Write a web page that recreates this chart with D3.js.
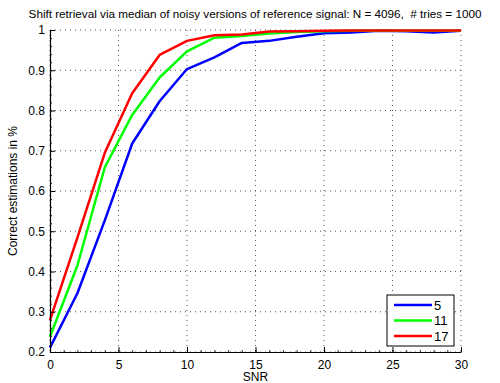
<!DOCTYPE html>
<html>
<head>
<meta charset="utf-8">
<script src="https://cdnjs.cloudflare.com/ajax/libs/d3/7.8.5/d3.min.js"></script>
<style>
  body { margin: 0; background: #fff; }
  text { font-family: "Liberation Sans", Arial, sans-serif; fill: #000; }
</style>
</head>
<body>
<div id="chart"></div>
<script>
var snr = [0, 2, 4, 6, 8, 10, 12, 14, 16, 18, 20, 22, 24, 26, 28, 30];
var series5  = [0.211, 0.346, 0.527, 0.718, 0.823, 0.903, 0.932, 0.968, 0.973, 0.983, 0.992, 0.994, 0.998, 0.997, 0.994, 0.998];
var series11 = [0.238, 0.415, 0.659, 0.789, 0.882, 0.947, 0.981, 0.985, 0.991, 0.995, 0.997, 0.998, 0.999, 0.998, 0.998, 0.998];
var series17 = [0.279, 0.484, 0.695, 0.843, 0.938, 0.973, 0.987, 0.989, 0.996, 0.997, 0.998, 0.999, 0.999, 0.999, 0.999, 0.999];
var seriesNames = ["5", "11", "17"];
var seriesColors = ["#0000ff", "#00ff00", "#ff0000"];
var xTicks = [0, 5, 10, 15, 20, 25, 30];
var yTicks = [0.2, 0.3, 0.4, 0.5, 0.6, 0.7, 0.8, 0.9, 1];

var width = 500, height = 383;
var margin = {top: 30, right: 39, bottom: 31, left: 50};
var w = width - margin.left - margin.right,
    h = height - margin.top - margin.bottom;

var x = d3.scaleLinear().domain([0, 30]).range([0, w]);
var y = d3.scaleLinear().domain([0.2, 1]).range([h, 0]);

var svg = d3.select("#chart").append("svg")
    .attr("width", width)
    .attr("height", height);

svg.append("text")
    .attr("x", 255)
    .attr("y", 18)
    .attr("text-anchor", "middle")
    .style("font-size", "11.7px")
    .style("white-space", "pre")
    .text("Shift retrieval via median of noisy versions of reference signal: N = 4096,  # tries = 1000");

var g = svg.append("g")
    .attr("transform", "translate(" + margin.left + "," + margin.top + ")");

// grid
g.selectAll(".vgrid")
    .data(xTicks)
  .enter().append("line")
    .attr("x1", function(d) { return x(d); })
    .attr("x2", function(d) { return x(d); })
    .attr("y1", 0).attr("y2", h)
    .style("stroke", "#555")
    .style("stroke-width", 1)
    .style("stroke-dasharray", "1,4");

g.selectAll(".hgrid")
    .data(yTicks)
  .enter().append("line")
    .attr("y1", function(d) { return y(d); })
    .attr("y2", function(d) { return y(d); })
    .attr("x1", 0).attr("x2", w)
    .style("stroke", "#555")
    .style("stroke-width", 1)
    .style("stroke-dasharray", "1,4");

// lines
var all = [series5, series11, series17];
var line = d3.line()
    .x(function(d, i) { return x(snr[i]); })
    .y(function(d) { return y(d); });

all.forEach(function(s, i) {
  g.append("path")
      .datum(s)
      .attr("d", line)
      .style("fill", "none")
      .style("stroke", seriesColors[i])
      .style("stroke-width", 2.5)
      .style("stroke-linejoin", "round");
});

// axes
var xAxis = d3.axisBottom(x).tickValues(xTicks).tickSize(-5).tickPadding(8).tickSizeOuter(0)
    .tickFormat(d3.format("d"));
var yAxis = d3.axisLeft(y).tickValues(yTicks).tickSize(-5).tickPadding(5).tickSizeOuter(0)
    .tickFormat(function(d) { return d === 1 ? "1" : d3.format(".1f")(d); });

// minor ticks
g.append("g")
    .attr("transform", "translate(0," + h + ")")
    .call(d3.axisBottom(x).ticks(30).tickSize(-2).tickFormat(""))
    .call(function(a) { a.select(".domain").remove(); a.selectAll("line").style("stroke", "#333"); });
g.append("g")
    .call(d3.axisLeft(y).ticks(40).tickSize(-2).tickFormat(""))
    .call(function(a) { a.select(".domain").remove(); a.selectAll("line").style("stroke", "#333"); });

g.append("g")
    .attr("transform", "translate(0," + h + ")")
    .call(xAxis)
    .call(function(a) {
      a.selectAll("text").style("font-size", "12px");
      a.select(".domain").style("stroke-width", 1.2);
    });

g.append("g")
    .call(yAxis)
    .call(function(a) {
      a.selectAll("text").style("font-size", "12px");
      a.select(".domain").style("stroke-width", 1.2);
    });

svg.append("text")
    .attr("x", margin.left + w / 2)
    .attr("y", 381)
    .attr("text-anchor", "middle")
    .style("font-size", "12px")
    .text("SNR");

svg.append("text")
    .attr("transform", "translate(17," + (margin.top + h / 2) + ") rotate(-90)")
    .attr("text-anchor", "middle")
    .style("font-size", "12px")
    .text("Correct estimations in %");

// legend
var legend = svg.append("g")
    .attr("transform", "translate(387,295)");

legend.append("rect")
    .attr("width", 67)
    .attr("height", 51)
    .style("fill", "#fff")
    .style("stroke", "#000")
    .style("stroke-width", 1);

var item = legend.selectAll(".item")
    .data(seriesNames)
  .enter().append("g")
    .attr("transform", function(d, i) { return "translate(0," + (10 + i * 15.5) + ")"; });

item.append("line")
    .attr("x1", 7).attr("x2", 45)
    .style("stroke", function(d, i) { return seriesColors[i]; })
    .style("stroke-width", 2.5);

item.append("text")
    .attr("x", 47)
    .attr("dy", "0.35em")
    .style("font-size", "13px")
    .text(function(d) { return d; });
</script>
</body>
</html>
